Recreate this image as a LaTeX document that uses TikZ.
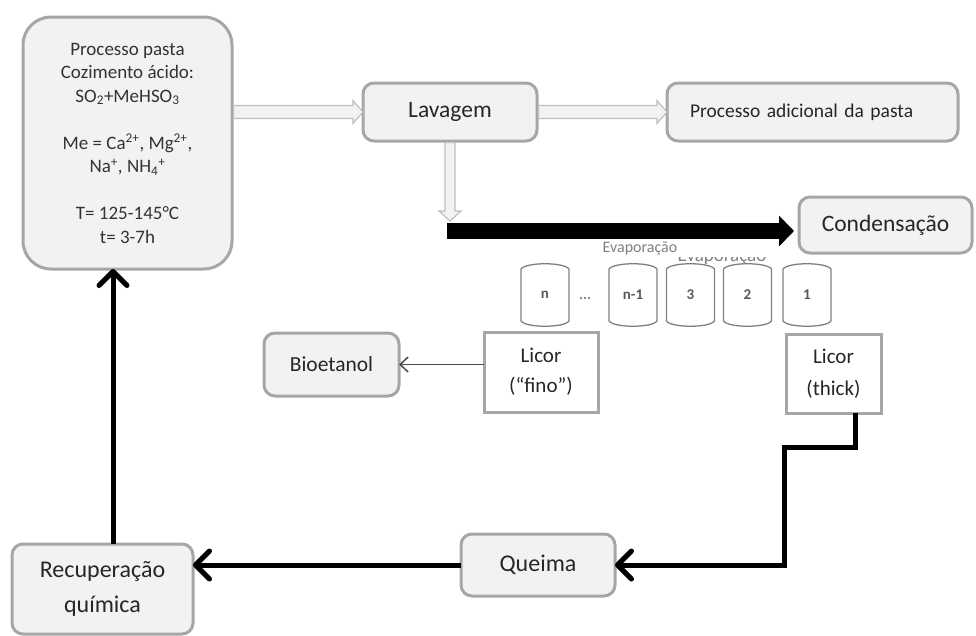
\documentclass[tikz,border=0pt]{standalone}
\usepackage{fontspec}
\setmainfont{Carlito}
\usetikzlibrary{arrows.meta,calc}
\definecolor{boxfill}{HTML}{F2F2F2}
\definecolor{boxline}{HTML}{A6A6A6}
\definecolor{harrow}{HTML}{BFBFBF}
\definecolor{txt}{HTML}{262626}
\definecolor{cylcol}{HTML}{7F7F7F}
\begin{document}
\begin{tikzpicture}[x=1pt,y=-1pt,
 rbox/.style={draw=boxline, fill=boxfill, line width=3pt, rounded corners=11pt, outer sep=0pt, inner sep=0pt, text=txt, align=center},
 sbox/.style={draw=boxline, fill=white, line width=3pt, outer sep=0pt, inner sep=0pt, text=txt, align=center},
 hollow/.style={draw=harrow, fill=boxfill, line width=1.2pt, line join=miter},
 bigline/.style={line width=5pt, line join=miter},
 bigarrow/.style={bigline, -{Straight Barb[length=14pt,width=28pt,round]}},
 thinarrow/.style={line width=1.5pt, draw=black!70, -{Straight Barb[length=8pt,width=15pt]}},
 barrel/.style={minimum width=48pt, minimum height=52pt, inner sep=0pt, outer sep=0pt, font=\fontsize{15}{16}\selectfont\bfseries, text=black!65},
 barrelline/.style={draw=cylcol, line width=1.3pt},
 graytext/.style={text=black!50, inner sep=0pt},
]
\useasboundingbox (0,0) rectangle (976,635);

% boxes
\node[rbox, minimum width=209pt, minimum height=252pt, rounded corners=28pt,
      font=\fontsize{19}{23.5}\selectfont, text=black!80] (main) at (127.5,143)
  {Processo pasta\\Cozimento ácido:\\SO\textsubscript{2}+MeHSO\textsubscript{3}\\[23.5pt]
   Me = Ca\textsuperscript{2+}, Mg\textsuperscript{2+},\\Na\textsuperscript{+}, NH\textsubscript{4}\textsuperscript{+}\\[23.5pt]
   T= 125-145°C\\t= 3-7h};
\node[rbox, minimum width=174pt, minimum height=58pt, font=\fontsize{23.5}{28}\selectfont] (lav) at (450,112) {Lavagem};
\node[rbox, minimum width=291pt, minimum height=58pt, text width=245pt, align=left, inner xsep=23pt,
      font=\fontsize{19.5}{24}\selectfont] (proc) at (812.5,112) {Processo adicional da pasta};
\node[rbox, minimum width=173pt, minimum height=56pt, font=\fontsize{23.5}{28}\selectfont] (cond) at (885.5,225) {Condensação};
\node[rbox, minimum width=135pt, minimum height=63pt, font=\fontsize{21.5}{26}\selectfont] (bio) at (331.5,364.5) {Bioetanol};
\node[sbox, minimum width=114pt, minimum height=80pt, font=\fontsize{21}{30}\selectfont] (fino) at (541,372) {Licor\\(“fino”)};
\node[sbox, minimum width=95pt, minimum height=79pt, font=\fontsize{21}{32}\selectfont] (thick) at (833.5,373.5) {Licor\\(thick)};
\node[rbox, minimum width=154pt, minimum height=62pt, font=\fontsize{24}{28}\selectfont] (que) at (538,565) {Queima};
\node[rbox, minimum width=181pt, minimum height=90pt, font=\fontsize{24}{35}\selectfont] (rec) at (102.5,589) {Recuperação\\química};

% evaporators
\node[barrel] (cn) at (545,295) {n};
\node[barrel] (cnm) at (633,295) {n-1};
\node[barrel] (c3) at (690.5,295) {3};
\node[barrel] (c2) at (747.5,295) {2};
\node[barrel] (c1) at (807,295) {1};
\foreach \c in {cn,cnm,c3,c2,c1}
  \draw[barrelline] (\c.north west) .. controls +(5,-7) and +(-5,-7) .. (\c.north east)
     -- (\c.south east) .. controls +(-5,7) and +(5,7) .. (\c.south west) -- cycle;
\node[graytext, font=\fontsize{15}{16}\selectfont\bfseries] (dots) at (585,298) {...};
\node[graytext, font=\fontsize{16}{18}\selectfont] (evap) at (640,248) {Evaporação};
\begin{scope}
  \clip (660,257.5) rectangle (790,263);
  \node[graytext, font=\fontsize{19}{22}\selectfont] (evap2) at (722,257) {Evaporação};
\end{scope}

% hollow arrows
\draw[hollow] let \p1=(main.east), \p2=(lav.west) in
  (\x1+1.5,\y2+6.5) -- (\x2-10,\y2+6.5) -- (\x2-10,\y2+11.5) -- (\x2,\y2)
  -- (\x2-10,\y2-11.5) -- (\x2-10,\y2-6.5) -- (\x1+1.5,\y2-6.5) -- cycle;
\draw[hollow] let \p1=(lav.east), \p2=(proc.west) in
  (\x1+1.5,\y2+6.5) -- (\x2-10,\y2+6.5) -- (\x2-10,\y2+11.5) -- (\x2,\y2)
  -- (\x2-10,\y2-11.5) -- (\x2-10,\y2-6.5) -- (\x1+1.5,\y2-6.5) -- cycle;
\coordinate (dtip) at (451,221);
\draw[hollow] let \p1=(lav.south), \p2=(dtip) in
  (\x1-5,\y1-1.5) -- (\x1-5,\y2+10) -- (\x1-11,\y2+10) -- (\x1,\y2)
  -- (\x1+11,\y2+10) -- (\x1+5,\y2+10) -- (\x1+5,\y1-1.5) -- cycle;

% big black arrow
\coordinate (evs) at (447,231);
\draw[line width=16pt, -{Triangle[length=15pt,width=30pt]}, shorten >=5pt] (evs) -- (evs -| cond.west);

% thin arrow
\draw[thinarrow] (fino.west |- bio.east) -- (bio.east);

% thick loop
\coordinate (tk) at ($(thick.south)+(21.5,0)$);
\coordinate (bend) at (784,447);
\draw[bigarrow] (tk) |- (bend) |- (que.east);
\draw[bigarrow] (que.west) -- (que.west -| rec.east);
\draw[bigarrow] ([xshift=10.5pt]rec.north) -- ([xshift=10.5pt]rec.north |- main.south);
\end{tikzpicture}
\end{document}
